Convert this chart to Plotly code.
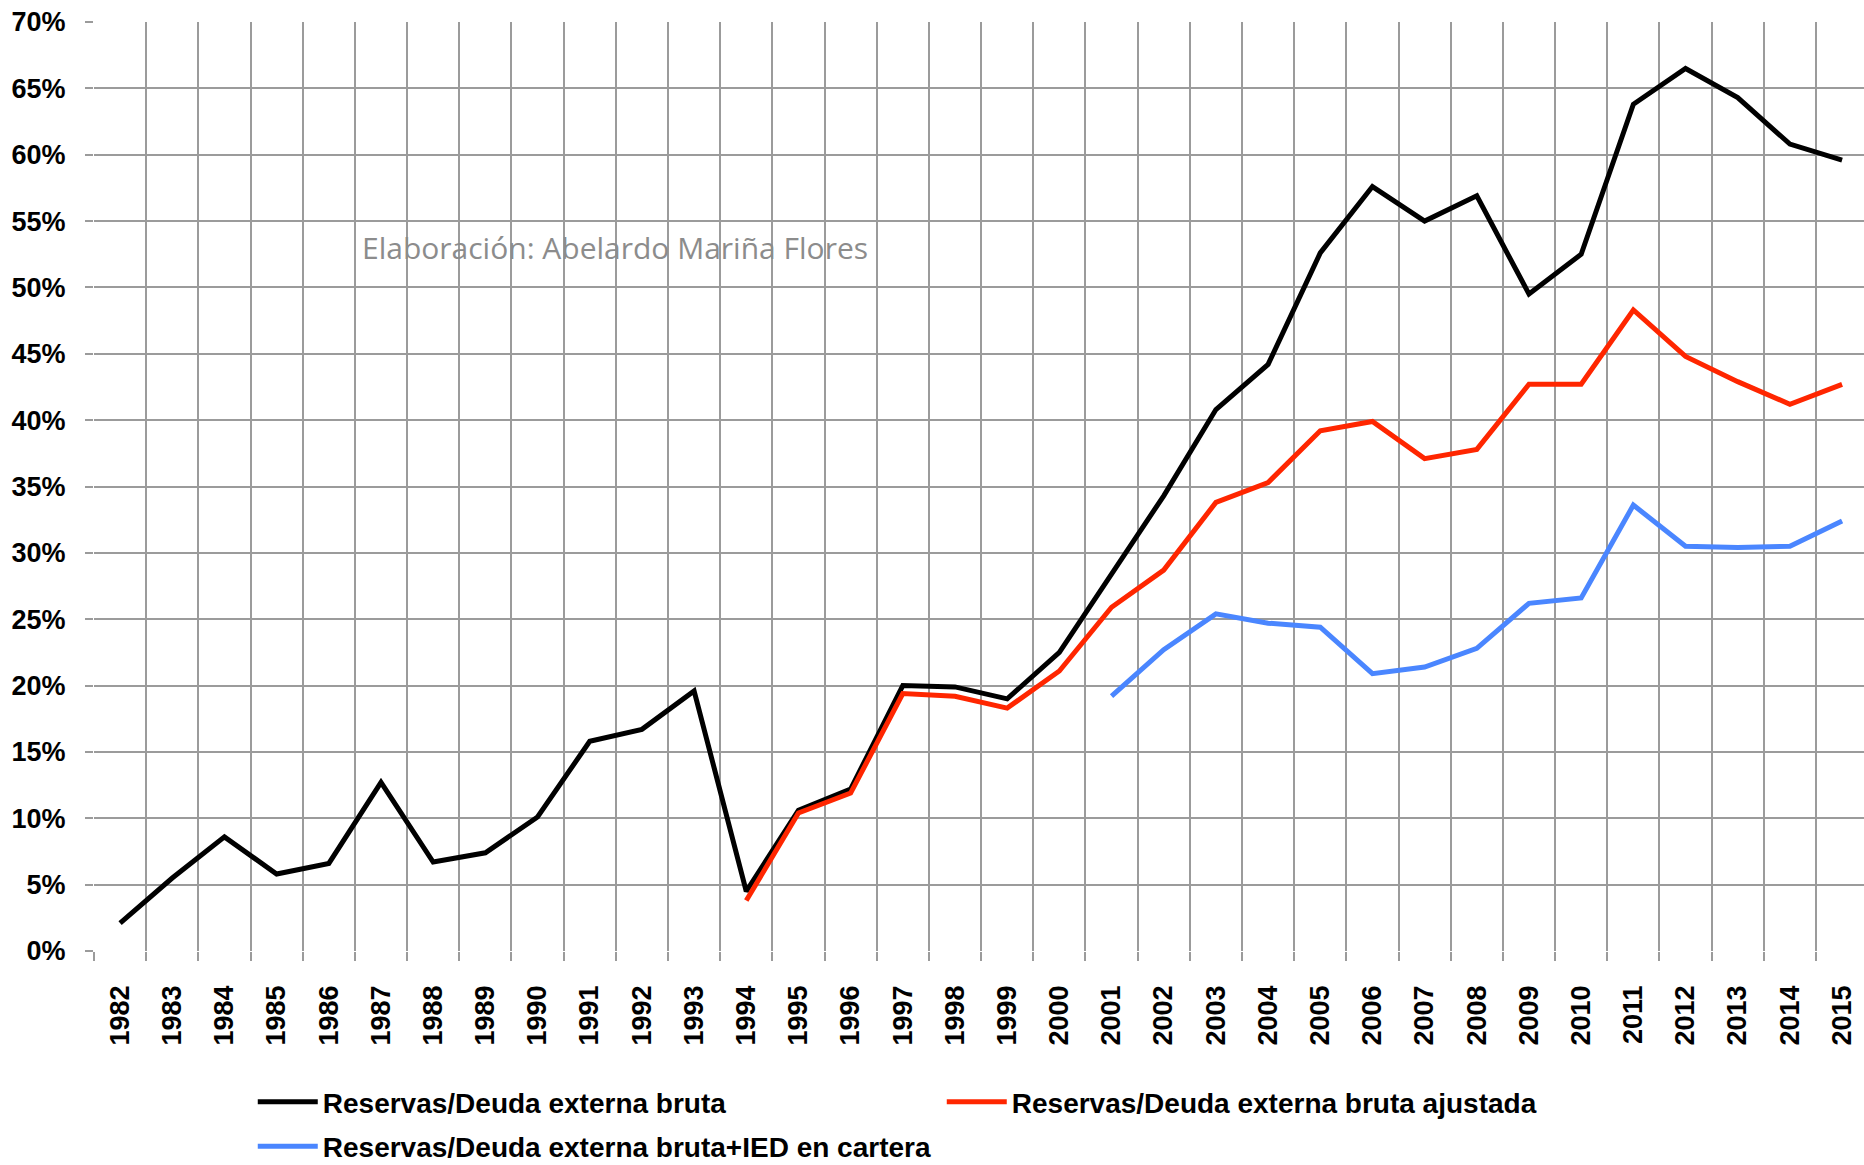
import plotly.graph_objects as go

# Reservas internacionales / deuda externa (%)
years = [str(y) for y in range(1982, 2016)]

reservas_deuda_bruta = [2.1, 5.5, 8.6, 5.8, 6.6, 12.7, 6.7, 7.4, 10.1, 15.8,
                        16.7, 19.6, 4.5, 10.6, 12.2, 20.0, 19.9, 19.0, 22.5, 28.4,
                        34.3, 40.8, 44.2, 52.6, 57.6, 55.0, 56.9, 49.5, 52.5, 63.8,
                        66.5, 64.3, 60.8, 59.6]

reservas_deuda_ajustada = [None] * 12 + [3.8, 10.4, 11.9, 19.4, 19.2, 18.3, 21.1,
                                         25.9, 28.7, 33.8, 35.3, 39.2, 39.9, 37.1,
                                         37.8, 42.7, 42.7, 48.3, 44.8, 42.9, 41.2, 42.7]

reservas_deuda_ied = [None] * 19 + [19.2, 22.7, 25.4, 24.7, 24.4, 20.9, 21.4, 22.8,
                                    26.2, 26.6, 33.6, 30.5, 30.4, 30.5, 32.4]

names = ["Reservas/Deuda externa bruta",
         "Reservas/Deuda externa bruta ajustada",
         "Reservas/Deuda externa bruta+IED en cartera"]

GRID = '#9b9b9b'
BOLD = dict(family='Liberation Sans, Arial', size=27, color='black', weight=700)

fig = go.Figure()
fig.add_trace(go.Scatter(x=years, y=reservas_deuda_bruta, mode='lines', name=names[0],
                         line=dict(color='black', width=5), legend='legend'))
fig.add_trace(go.Scatter(x=years, y=reservas_deuda_ajustada, mode='lines', name=names[1],
                         line=dict(color='#ff2600', width=5), legend='legend'))
fig.add_trace(go.Scatter(x=years, y=reservas_deuda_ied, mode='lines', name=names[2],
                         line=dict(color='#4a86ff', width=5), legend='legend2'))

fig.add_annotation(text="Elaboración: Abelardo Mariña Flores",
                   xref='paper', yref='y', x=0.1503, y=53.0,
                   xanchor='left', yanchor='middle', showarrow=False,
                   font=dict(family='Open Sans', size=30, color='#8c8c8c'))

legend_font = dict(family='Liberation Sans, Arial', size=28, color='black', weight=700)

fig.update_layout(
    width=1864, height=1165,
    margin=dict(l=94, r=0, t=22, b=214, autoexpand=False),
    plot_bgcolor='white', paper_bgcolor='white',
    showlegend=True,
    legend=dict(orientation='h', x=0.0897, y=-0.1625, xanchor='left', yanchor='middle',
                font=legend_font, itemwidth=60, entrywidth=614, entrywidthmode='pixels',
                bgcolor='rgba(0,0,0,0)'),
    legend2=dict(orientation='h', x=0.0897, y=-0.2105, xanchor='left', yanchor='middle',
                 font=legend_font, itemwidth=60, bgcolor='rgba(0,0,0,0)'),
    xaxis=dict(type='category', range=[-0.5, 33.42], tickson='boundaries',
               showgrid=True, gridcolor=GRID, gridwidth=2,
               ticks='outside', ticklen=9, tickwidth=2, tickcolor=GRID,
               tickangle=-90, tickfont=BOLD, ticklabelstandoff=28,
               showline=False, zeroline=False),
    yaxis=dict(range=[0, 70], dtick=5, ticksuffix='%',
               showgrid=True, gridcolor=GRID, gridwidth=2,
               ticks='outside', ticklen=8, tickwidth=2, tickcolor=GRID,
               tickfont=BOLD, ticklabelstandoff=14,
               showline=False, zeroline=False),
)

fig.write_html("out.html", config={'displayModeBar': False},
               post_script="document.body.style.margin='0';")
